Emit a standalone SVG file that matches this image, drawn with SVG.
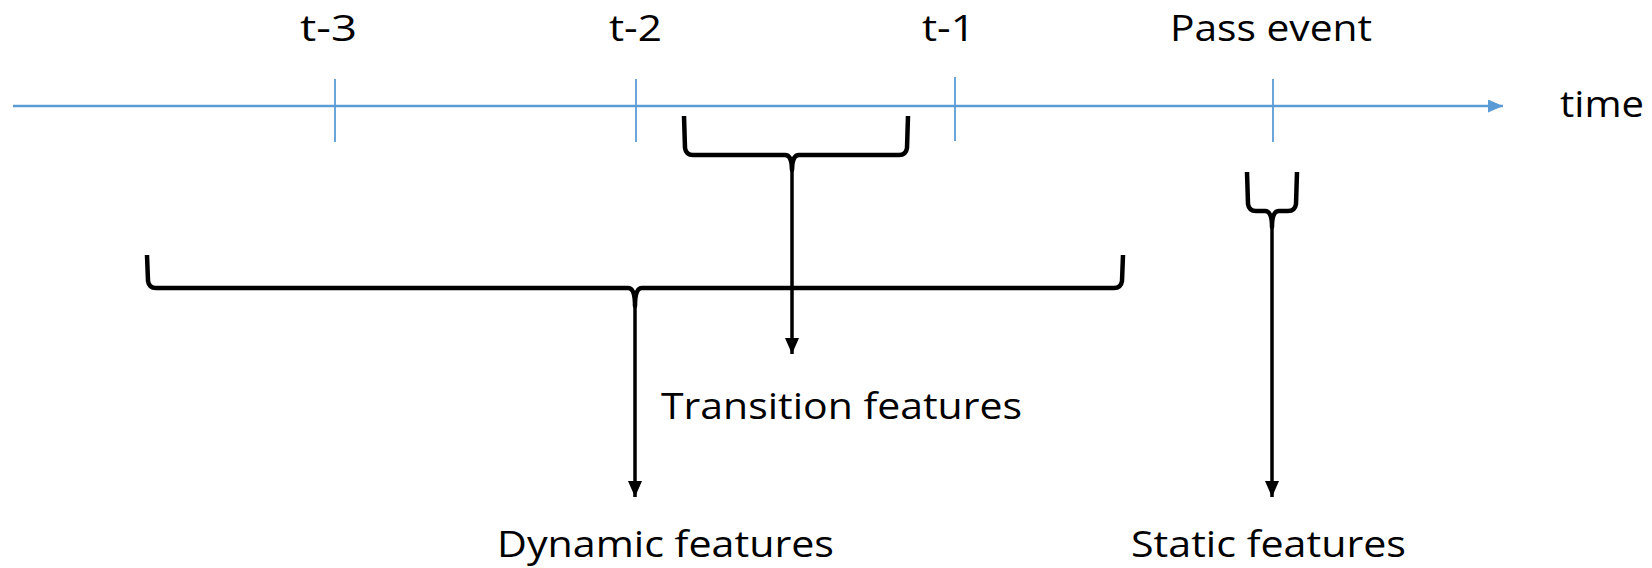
<svg xmlns="http://www.w3.org/2000/svg" width="1652" height="568" viewBox="0 0 1652 568">
<style>
.lbl{font-family:"Open Sans","Liberation Sans",sans-serif;font-size:37px;fill:#000}
.tick{stroke:#5B9BD5;stroke-width:1.8}
.brace{fill:none;stroke:#000;stroke-width:4.5;stroke-linejoin:round}
.arr{stroke:#000;stroke-width:3.5;marker-end:url(#ah)}
</style>
<defs>
<marker id="ah" markerWidth="16" markerHeight="15" refX="16" refY="7.5" orient="auto" markerUnits="userSpaceOnUse" viewBox="0 0 16 15">
<path d="M0,0.5 L16,7.5 L0,14.5 Z" fill="#000"/>
</marker>
<marker id="bh" markerWidth="15" markerHeight="13" refX="15" refY="6.5" orient="auto" markerUnits="userSpaceOnUse" viewBox="0 0 15 13">
<path d="M0,0 L15,6.5 L0,13 Z" fill="#5B9BD5"/>
</marker>
</defs>
<rect width="1652" height="568" fill="#fff"/>
<g id="axis">
<line x1="13" y1="106" x2="1503" y2="106" stroke="#5B9BD5" stroke-width="2.5" marker-end="url(#bh)"/>
<text class="lbl" x="1560" y="117" textLength="84" lengthAdjust="spacingAndGlyphs">time</text>
</g>
<g id="tick-t3"><line class="tick" x1="335" y1="79" x2="335" y2="142"/><text class="lbl" x="300" y="41" textLength="57" lengthAdjust="spacingAndGlyphs">t-3</text></g>
<g id="tick-t2"><line class="tick" x1="636" y1="79" x2="636" y2="142"/><text class="lbl" x="609" y="41" textLength="53" lengthAdjust="spacingAndGlyphs">t-2</text></g>
<g id="tick-t1"><line class="tick" x1="955" y1="77" x2="955" y2="141"/><text class="lbl" x="922" y="41" textLength="53" lengthAdjust="spacingAndGlyphs">t-1</text></g>
<g id="tick-pass"><line class="tick" x1="1273" y1="79" x2="1273" y2="142"/><text class="lbl" x="1170" y="41" textLength="202" lengthAdjust="spacingAndGlyphs">Pass event</text></g>
<g id="transition">
<path class="brace" d="M684,116 L685,148 Q686,155 693,155 L785,155 Q792,155 792,170 Q792,155 799,155 L899,155 Q906,155 907,148 L908,116"/>
<text class="lbl" x="661" y="419" textLength="361" lengthAdjust="spacingAndGlyphs">Transition features</text>
</g>
<g id="dynamic">
<path class="brace" d="M147,255 L148,281 Q149,288 156,288 L628,288 Q635,288 635,306 Q635,288 642,288 L1114,288 Q1121,288 1122,281 L1123,255"/>
<text class="lbl" x="497" y="557" textLength="337" lengthAdjust="spacingAndGlyphs">Dynamic features</text>
</g>
<g id="static">
<path class="brace" d="M1247,172 L1248,204 Q1249,211 1256,211 L1265,211 Q1272,211 1272,227 Q1272,211 1279,211 L1288,211 Q1295,211 1296,204 L1297,172"/>
<text class="lbl" x="1131" y="557" textLength="275" lengthAdjust="spacingAndGlyphs">Static features</text>
</g>
<g id="connectors">
<line class="arr" x1="792" y1="165" x2="792" y2="354"/>
<line class="arr" x1="635" y1="300" x2="635" y2="497"/>
<line class="arr" x1="1272" y1="222" x2="1272" y2="497"/>
</g>
</svg>
